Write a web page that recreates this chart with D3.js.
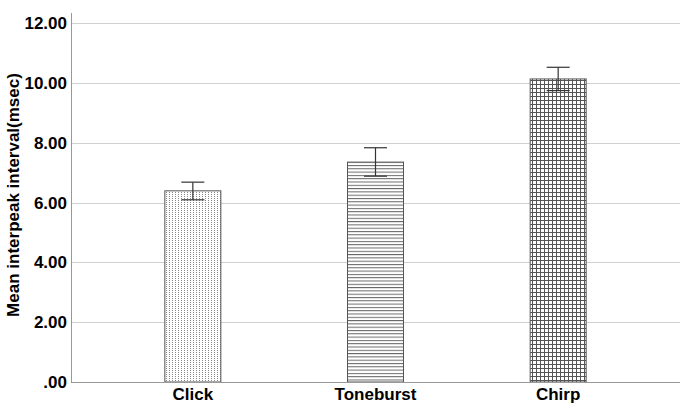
<!DOCTYPE html>
<html><head><meta charset="utf-8">
<script src="https://cdn.jsdelivr.net/npm/d3@7"></script>
<style>body{margin:0;background:#fff}svg{display:block}</style>
</head><body>
<svg id="c" width="685" height="407"></svg>
<script>
const categories = ["Click", "Toneburst", "Chirp"];
const means = [6.39, 7.35, 10.13];
const errLow = [6.09, 6.88, 9.74];
const errHigh = [6.68, 7.83, 10.52];
const yTicks = [0, 2, 4, 6, 8, 10, 12];
const patterns = ["dots", "hlines", "grid"];

const svg = d3.select("#c");
const x0 = 71, x1 = 680, yTop = 13, yBase = 382;
const y = d3.scaleLinear().domain([0, 12]).range([yBase, 23]);
const x = d3.scalePoint().domain(categories).range([x0, x1]).padding(0.667);
const bw = 56;
const font = "Liberation Sans, Arial, sans-serif";

const defs = svg.append("defs");
const pd = defs.append("pattern").attr("id","dots").attr("patternUnits","userSpaceOnUse").attr("width",3).attr("height",2);
pd.append("rect").attr("width",3).attr("height",2).attr("fill","#fff");
pd.append("rect").attr("x",1).attr("y",0).attr("width",1).attr("height",1).attr("fill","#888");
const ph = defs.append("pattern").attr("id","hlines").attr("patternUnits","userSpaceOnUse").attr("width",4).attr("height",3.3);
ph.append("rect").attr("width",4).attr("height",3.3).attr("fill","#fff");
ph.append("rect").attr("x",0).attr("y",0).attr("width",4).attr("height",1).attr("fill","#666");
const pg = defs.append("pattern").attr("id","grid").attr("patternUnits","userSpaceOnUse").attr("width",4).attr("height",4);
pg.append("rect").attr("width",4).attr("height",4).attr("fill","#fff");
pg.append("rect").attr("x",0).attr("y",0).attr("width",4).attr("height",1).attr("fill","#555");
pg.append("rect").attr("x",0).attr("y",0).attr("width",1).attr("height",4).attr("fill","#555");

svg.append("g").selectAll("line").data(yTicks.filter(d=>d>0)).join("line")
  .attr("x1", x0).attr("x2", x1)
  .attr("y1", d=>Math.round(y(d))+0.5).attr("y2", d=>Math.round(y(d))+0.5)
  .attr("stroke", "#d0d0d0").attr("stroke-width", 1);

svg.append("g").selectAll("rect").data(categories).join("rect")
  .attr("x", d=>x(d)-bw/2).attr("width", bw)
  .attr("y", (d,i)=>y(means[i])).attr("height", (d,i)=>yBase - y(means[i]))
  .attr("fill", (d,i)=>`url(#${patterns[i]})`)
  .attr("stroke", "#555").attr("stroke-width", 1);

const eg = svg.append("g").attr("stroke", "#333").attr("stroke-width", 1.2);
categories.forEach((c,i)=>{
  const cx = x(c);
  eg.append("line").attr("x1",cx).attr("x2",cx).attr("y1",y(errHigh[i])).attr("y2",y(errLow[i]));
  eg.append("line").attr("x1",cx-11.5).attr("x2",cx+11.5).attr("y1",y(errHigh[i])).attr("y2",y(errHigh[i]));
  eg.append("line").attr("x1",cx-11.5).attr("x2",cx+11.5).attr("y1",y(errLow[i])).attr("y2",y(errLow[i]));
});

svg.append("line").attr("x1",x0+0.5).attr("x2",x0+0.5).attr("y1",yTop).attr("y2",yBase).attr("stroke","#999");
svg.append("line").attr("x1",x0).attr("x2",x1).attr("y1",yBase+0.5).attr("y2",yBase+0.5).attr("stroke","#999");

const fmt = d => d === 0 ? ".00" : d3.format(".2f")(d);
svg.append("g").selectAll("text").data(yTicks).join("text")
  .attr("x", 67).attr("y", d=>y(d)+6)
  .attr("text-anchor","end")
  .attr("font-family",font).attr("font-weight","bold").attr("font-size",17)
  .attr("fill","#000").text(fmt);

svg.append("g").selectAll("text").data(categories).join("text")
  .attr("x", d=>x(d)).attr("y", 400)
  .attr("text-anchor","middle")
  .attr("font-family",font).attr("font-weight","bold").attr("font-size",17)
  .attr("fill","#000").text(d=>d);

svg.append("text").attr("transform","translate(19,195) rotate(-90)")
  .attr("text-anchor","middle")
  .attr("font-family",font).attr("font-weight","bold").attr("font-size",17)
  .attr("fill","#000").text("Mean interpeak interval(msec)");
</script>
</body></html>
